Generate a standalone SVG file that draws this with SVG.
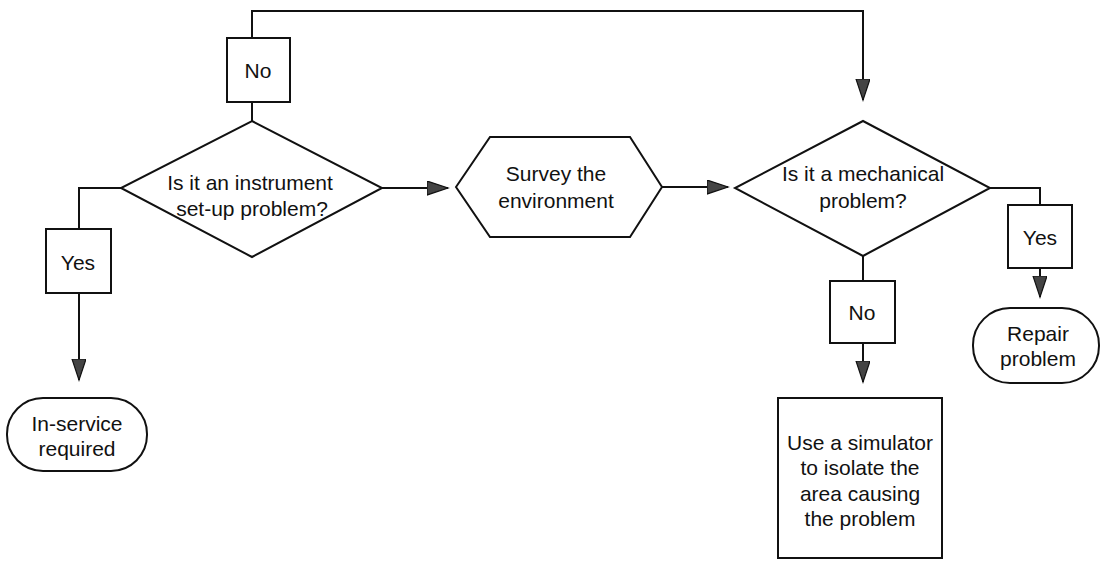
<svg xmlns="http://www.w3.org/2000/svg" width="1101" height="561" viewBox="0 0 1101 561">
<defs>
<style>
.s{fill:#fff;stroke:#111;stroke-width:2}
.c{fill:none;stroke:#111;stroke-width:2}
.t{font-family:"Liberation Sans",Arial,sans-serif;font-size:21px;fill:#111;text-anchor:middle}
</style>
<marker id="ah" markerUnits="userSpaceOnUse" markerWidth="24" markerHeight="16" refX="21" refY="7" orient="auto">
<path d="M0,0 L21,7 L0,14 z" fill="#444" stroke="#111" stroke-width="1.2"/>
</marker>
</defs>
<rect width="1101" height="561" fill="#fff"/>
<g id="connectors">
<polyline class="c" points="252,38 252,11 863,11 863,100" marker-end="url(#ah)"/>
<line class="c" x1="252" y1="102" x2="252" y2="121"/>
<polyline class="c" points="121,188 79,188 79,229"/>
<line class="c" x1="79" y1="293" x2="79" y2="380" marker-end="url(#ah)"/>
<line class="c" x1="382" y1="188" x2="448" y2="188" marker-end="url(#ah)"/>
<line class="c" x1="662" y1="187" x2="728" y2="187" marker-end="url(#ah)"/>
<polyline class="c" points="990,188 1040,188 1040,205"/>
<line class="c" x1="1040" y1="268" x2="1040" y2="297" marker-end="url(#ah)"/>
<line class="c" x1="863" y1="256" x2="863" y2="281"/>
<line class="c" x1="863" y1="343" x2="863" y2="382" marker-end="url(#ah)"/>
</g>
<g id="no1">
<rect class="s" x="227" y="38" width="63" height="64"/>
<text class="t" x="258" y="78">No</text>
</g>
<g id="decision1">
<polygon class="s" points="252,121 382,188 252,257 121,188"/>
<text class="t" x="250" y="190">Is it an instrument</text>
<text class="t" x="252" y="216">set-up problem?</text>
</g>
<g id="yes1">
<rect class="s" x="46" y="229" width="65" height="64"/>
<text class="t" x="78" y="270">Yes</text>
</g>
<g id="inservice">
<rect class="s" x="7" y="398" width="140" height="73" rx="36" ry="36"/>
<text class="t" x="77" y="431">In-service</text>
<text class="t" x="77" y="456">required</text>
</g>
<g id="survey">
<polygon class="s" points="456,187 490,137 630,137 662,187 630,237 490,237"/>
<text class="t" x="556" y="181">Survey the</text>
<text class="t" x="556" y="208">environment</text>
</g>
<g id="decision2">
<polygon class="s" points="863,121 990,188 863,256 735,188"/>
<text class="t" x="863" y="181">Is it a mechanical</text>
<text class="t" x="863" y="208">problem?</text>
</g>
<g id="yes2">
<rect class="s" x="1008" y="205" width="64" height="63"/>
<text class="t" x="1040" y="245">Yes</text>
</g>
<g id="repair">
<rect class="s" x="973" y="308" width="126" height="75" rx="37" ry="37"/>
<text class="t" x="1038" y="341">Repair</text>
<text class="t" x="1038" y="366">problem</text>
</g>
<g id="no2">
<rect class="s" x="830" y="281" width="65" height="62"/>
<text class="t" x="862" y="320">No</text>
</g>
<g id="simulator">
<rect class="s" x="778" y="398" width="164" height="160"/>
<text class="t" x="860" y="450">Use a simulator</text>
<text class="t" x="860" y="475">to isolate the</text>
<text class="t" x="860" y="501">area causing</text>
<text class="t" x="860" y="526">the problem</text>
</g>
</svg>
